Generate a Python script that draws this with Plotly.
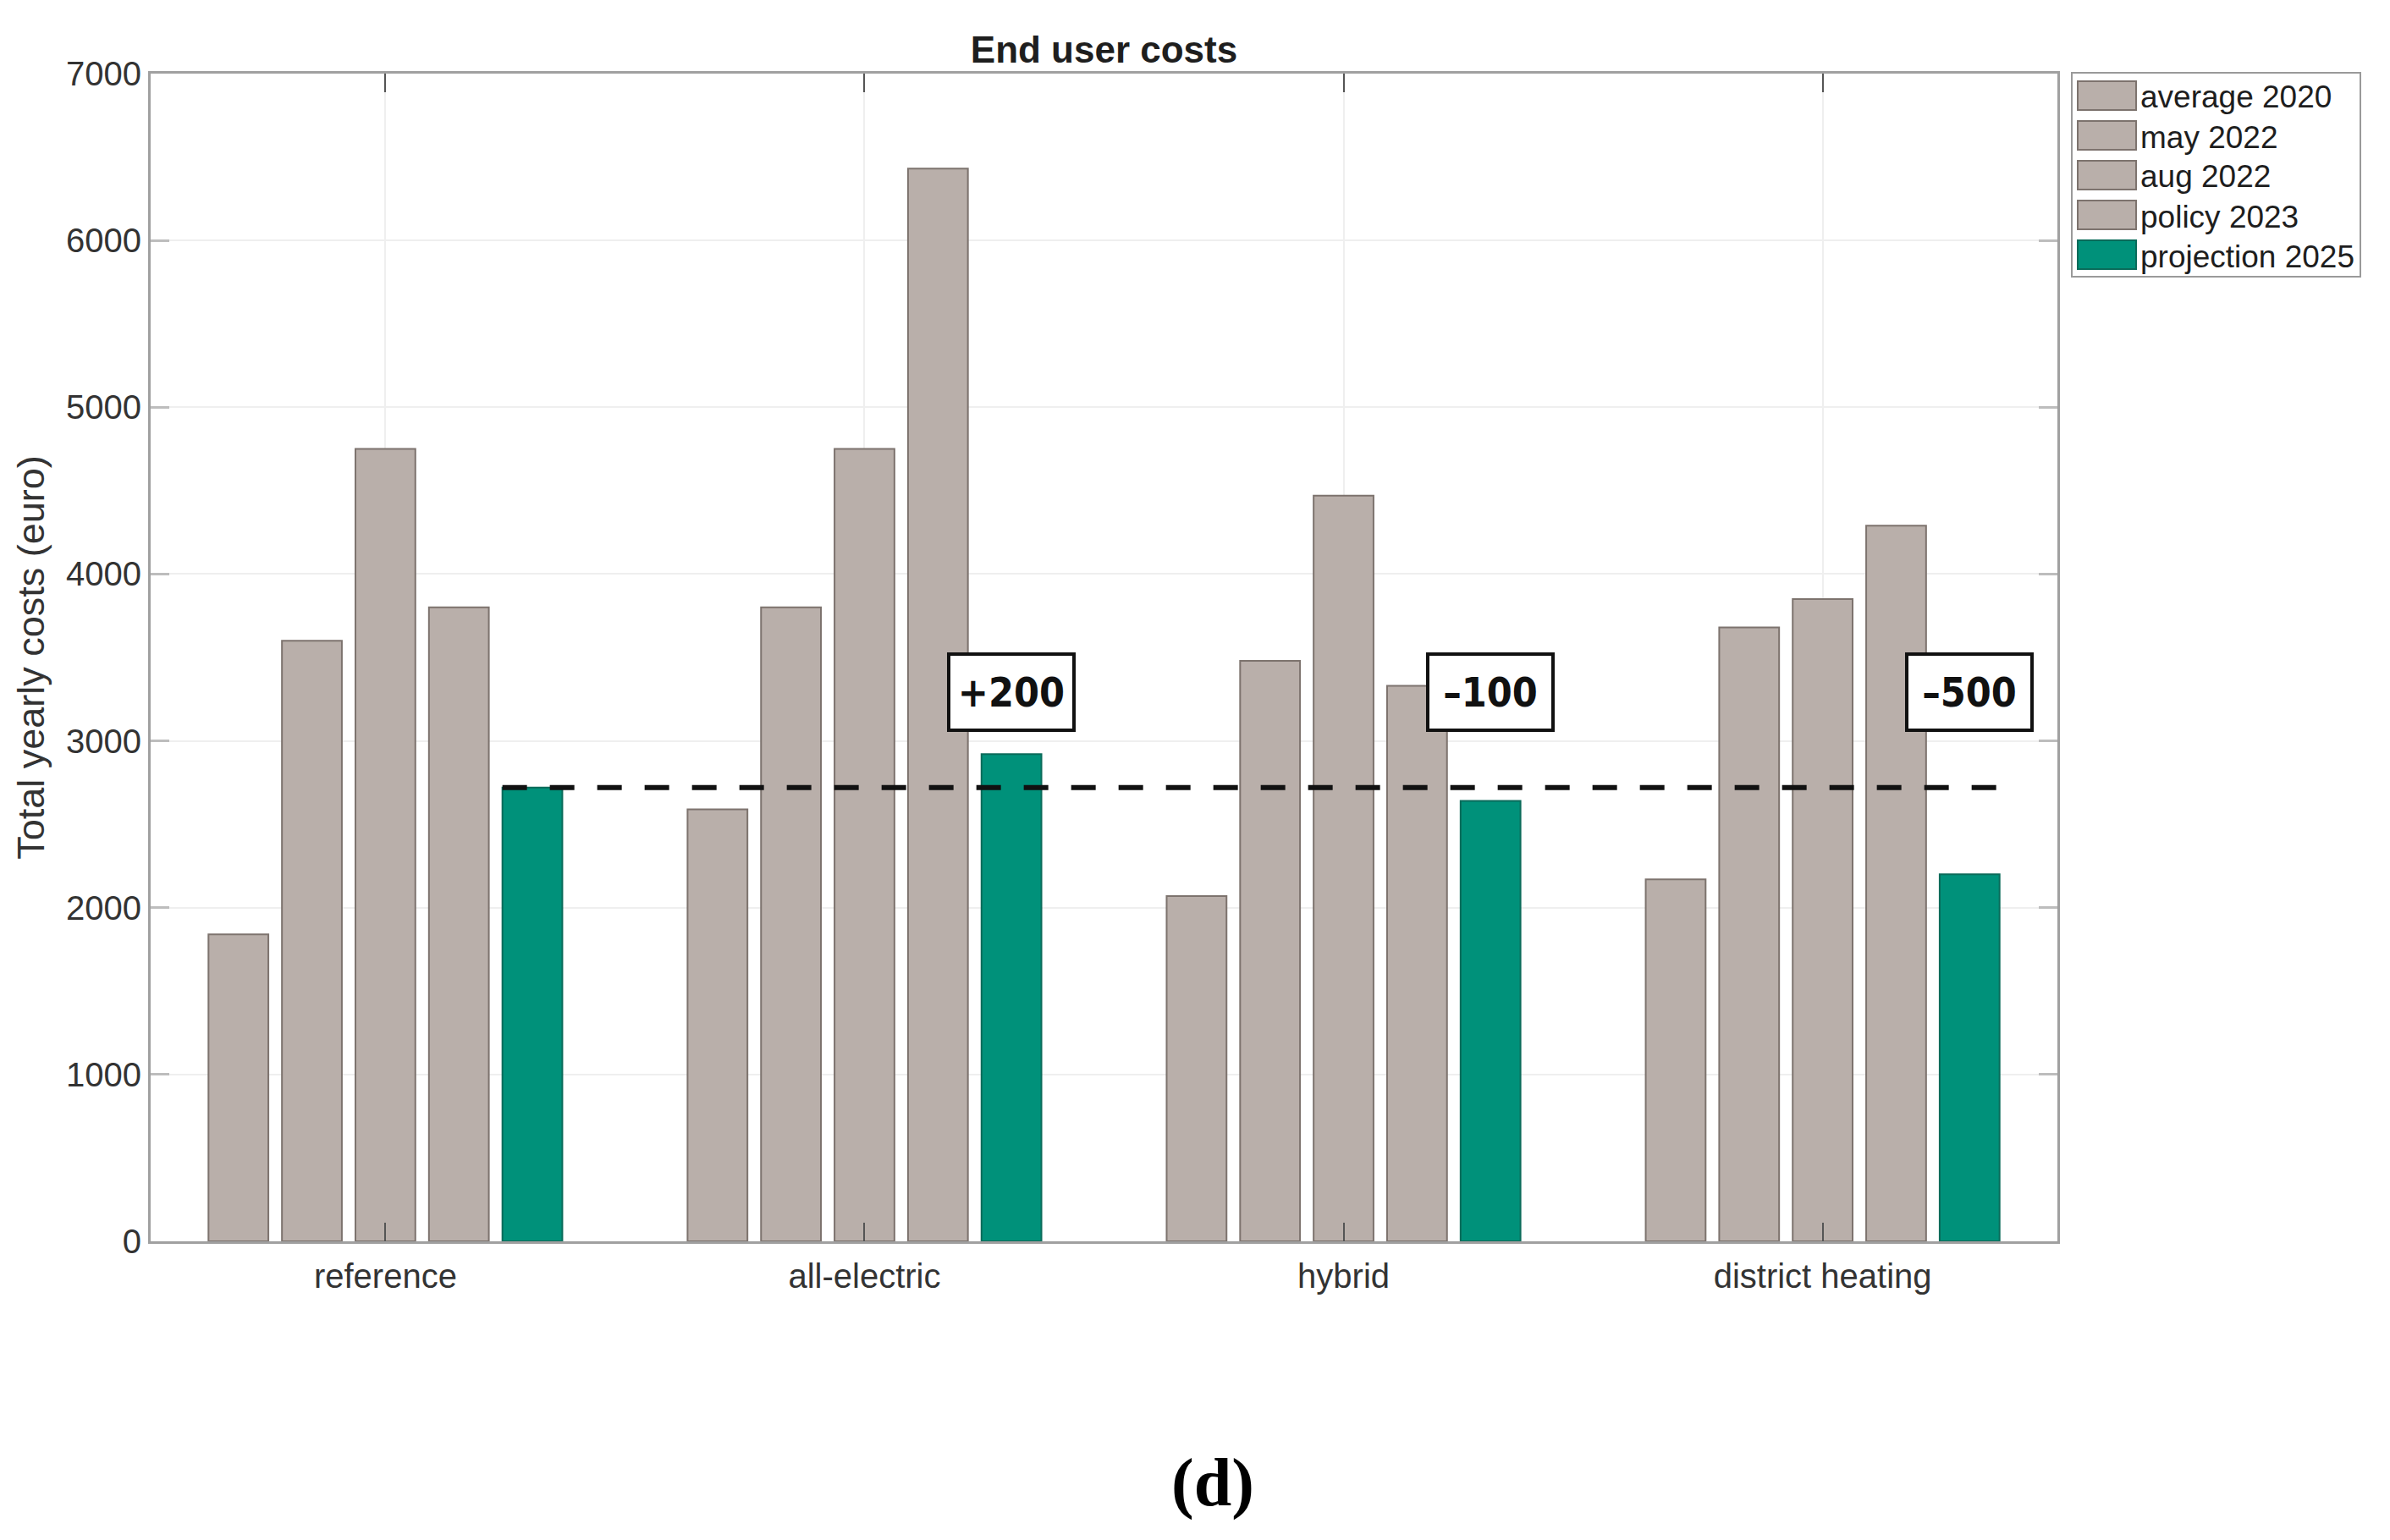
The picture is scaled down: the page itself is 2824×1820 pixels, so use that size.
import plotly.graph_objects as go

# ---------------- data ----------------
categories = ["reference", "all-electric", "hybrid", "district heating"]
series_names = ["average 2020", "may 2022", "aug 2022", "policy 2023", "projection 2025"]
average_2020 = [1840, 2590, 2070, 2170]
may_2022 = [3600, 3800, 3480, 3680]
aug_2022 = [4750, 4750, 4470, 3850]
policy_2023 = [3800, 6430, 3330, 4290]
projection_2025 = [2720, 2920, 2640, 2200]
baseline_value = 2720          # reference-case projection 2025 (dashed line)
delta_labels = ["", "+200", "\u2013100", "\u2013500"]
delta_label_value = 3290
y_tick_values = [0, 1000, 2000, 3000, 4000, 5000, 6000, 7000]

series_values = [average_2020, may_2022, aug_2022, policy_2023, projection_2025]

# ---------------- style ----------------
OFF = 8                                   # browser body margin
W, H = 2824 - 2 * OFF, 1820 - 2 * OFF
L, R, T, B = 178 - OFF, 2431 - OFF, 87 - OFF, 1467 - OFF   # plot-area box (figure px)
GREY = "#b9afaa"
GREY_EDGE = "#7d736e"
GREEN = "#00917a"
GREEN_EDGE = "#0a6b5a"
series_colors = [GREY, GREY, GREY, GREY, GREEN]
series_edges = [GREY_EDGE, GREY_EDGE, GREY_EDGE, GREY_EDGE, GREEN_EDGE]
BARGAP = 0.233
BARGROUPGAP = 0.185
n_series = len(series_names)
slot = (1 - BARGAP) / n_series
bar_w = slot * (1 - BARGROUPGAP)
FONT = "Liberation Sans, Arial, sans-serif"

def px(xp):
    """page pixel x -> paper x"""
    return (xp - OFF - L) / (R - L)

def py(yp):
    """page pixel y -> paper y"""
    return (B - (yp - OFF)) / (B - T)

x_idx = list(range(len(categories)))

fig = go.Figure()
for name, vals, col, edge in zip(series_names, series_values, series_colors, series_edges):
    fig.add_trace(go.Bar(
        x=x_idx, y=vals, name=name,
        marker=dict(color=col, line=dict(color=edge, width=2)),
        showlegend=False,
    ))

# position of the last (projection) bar inside each group
last_off = (n_series - 1 - (n_series - 1) / 2) * slot

shapes = []
# dashed baseline
shapes.append(dict(
    type="line", xref="x", yref="y",
    x0=x_idx[0] + last_off - bar_w / 2, x1=x_idx[-1] + last_off + bar_w / 2,
    y0=baseline_value, y1=baseline_value,
    line=dict(color="#111111", width=6, dash="29px,27px"),
    layer="above",
))

annotations = []
for i, lab in zip(x_idx, delta_labels):
    if not lab:
        continue
    annotations.append(dict(
        x=i + last_off, y=delta_label_value, xref="x", yref="y",
        text="<b>" + lab + "</b>", showarrow=False,
        font=dict(family="DejaVu Sans Condensed, Liberation Sans Narrow, DejaVu Sans, sans-serif",
                  size=48, color="#111111"),
        bgcolor="white", bordercolor="#111111", borderwidth=4, borderpad=2,
        width=140, height=82, xanchor="center", yanchor="middle",
    ))

# manual legend (wide swatches like the original)
leg_x0, leg_x1, leg_y0, leg_y1 = 2448, 2789, 86, 327
shapes.append(dict(type="rect", xref="paper", yref="paper",
                   x0=px(leg_x0), x1=px(leg_x1), y0=py(leg_y1), y1=py(leg_y0),
                   line=dict(color="#9a9a9a", width=2), fillcolor="white"))
row_c0, row_pitch, sw_h = 113, 47, 34
for k, (name, col, edge) in enumerate(zip(series_names, series_colors, series_edges)):
    cy = row_c0 + k * row_pitch
    shapes.append(dict(type="rect", xref="paper", yref="paper",
                       x0=px(2455), x1=px(2524), y0=py(cy + sw_h / 2), y1=py(cy - sw_h / 2),
                       line=dict(color=edge, width=2), fillcolor=col))
    annotations.append(dict(x=px(2527), y=py(cy + 2), xref="paper", yref="paper",
                            text=name, showarrow=False, xanchor="left", yanchor="middle",
                            font=dict(family=FONT, size=37, color="#1e1e1e")))

# caption
annotations.append(dict(x=px(1433), y=py(1752), xref="paper", yref="paper",
                        text="<b>(d)</b>", showarrow=False, xanchor="center", yanchor="middle",
                        font=dict(family="Liberation Serif, Times New Roman, serif", size=80,
                                  color="black")))

fig.update_layout(
    width=W, height=H,
    margin=dict(l=L, r=W - R, t=T, b=H - B, pad=0),
    paper_bgcolor="white", plot_bgcolor="white",
    barmode="group", bargap=BARGAP, bargroupgap=BARGROUPGAP,
    title=dict(text="<b>End user costs</b>", x=0.5, xref="paper", xanchor="center",
               y=1 - (59 - OFF) / H, yref="container", yanchor="middle",
               font=dict(family=FONT, size=44, color="#1e1e1e")),
    shapes=shapes, annotations=annotations,
    font=dict(family=FONT, color="#333333"),
)

fig.update_xaxes(
    range=[-0.49, len(categories) - 1 + 0.49],
    tickvals=x_idx, ticktext=categories,
    tickfont=dict(family=FONT, size=40, color="#333333"),
    ticks="inside", ticklen=22, tickwidth=2, tickcolor="#555555",
    ticklabelstandoff=4,
    showline=True, linecolor="#a0a0a0", linewidth=3, mirror="allticks",
    showgrid=True, gridcolor="#efefef", gridwidth=2,
    zeroline=False, fixedrange=True,
)
fig.update_yaxes(
    range=[0, 7000], tickvals=y_tick_values,
    tickfont=dict(family=FONT, size=40, color="#333333"),
    ticks="inside", ticklen=22, tickwidth=3, tickcolor="#bdbdbd",
    showline=True, linecolor="#a0a0a0", linewidth=3, mirror="allticks",
    showgrid=True, gridcolor="#efefef", gridwidth=2,
    zeroline=False,
    title=dict(text="Total yearly costs (euro)", standoff=12,
               font=dict(family=FONT, size=45, color="#333333")),
)

fig.write_html("out.html")
